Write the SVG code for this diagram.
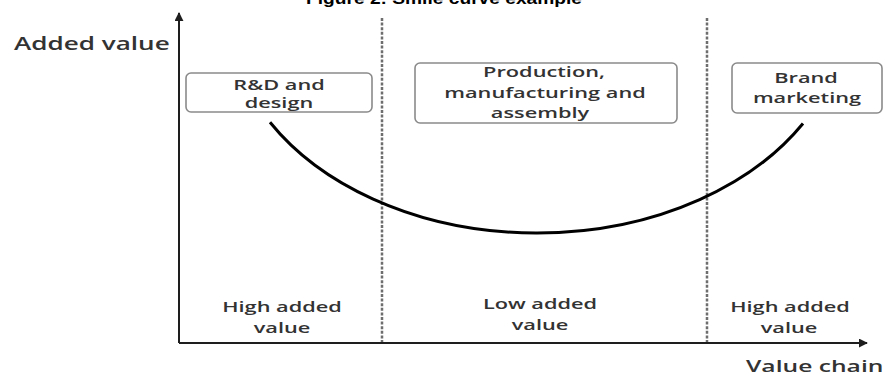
<svg xmlns="http://www.w3.org/2000/svg" width="886" height="374" viewBox="0 0 886 374">
  <style>
    .lbl { font-family: "Open Sans", "Liberation Sans", sans-serif; font-weight: 600; fill: #333; font-size: 15px; text-anchor: middle; }
    .big { font-size: 18px; text-anchor: start; }
    .box { fill: #fff; stroke: #8a8a8a; stroke-width: 1.6; }
    .axis { stroke: #1e1e1e; stroke-width: 2; fill: none; }
    .divider { stroke: #6e6e6e; stroke-width: 2.5; stroke-dasharray: 3 1.6; fill: none; }
    .curve { stroke: #000; stroke-width: 3; fill: none; }
  </style>
  <defs>
    <marker id="arrow" viewBox="0 0 10 10" refX="9" refY="5" markerWidth="4.5" markerHeight="4.5" orient="auto" markerUnits="strokeWidth">
      <path d="M0,0 L10,5 L0,10 Z" fill="#1e1e1e"/>
    </marker>
  </defs>

  <rect width="886" height="374" fill="#fff"/>

  <!-- title, cropped at the top edge -->
  <text x="306" y="4" font-family="Liberation Sans, Arial, sans-serif" font-weight="bold" font-size="17" fill="#000" textLength="276" lengthAdjust="spacingAndGlyphs">Figure 2: Smile curve example</text>

  <!-- axes, section dividers and the smile curve -->
  <g id="connectors">
    <line class="axis" x1="179" y1="343" x2="179" y2="13" marker-end="url(#arrow)"/>
    <line class="axis" x1="179" y1="343" x2="867" y2="343" marker-end="url(#arrow)"/>
    <line class="divider" x1="382" y1="18" x2="382" y2="342"/>
    <line class="divider" x1="707" y1="18" x2="707" y2="342"/>
    <path id="smile-curve" class="curve" d="M270,122.2 A309,223 0 0 0 803,123.5"/>
  </g>

  <!-- axis titles (all lettering is set 1.45x wide) -->
  <g id="y-axis-label">
    <text class="lbl big" transform="matrix(1.45,0,0,1,14,50)">Added value</text>
  </g>
  <g id="x-axis-label">
    <text class="lbl big" transform="matrix(1.45,0,0,1,746,372)" style="font-size:17px">Value chain</text>
  </g>

  <!-- activity boxes -->
  <g id="rd-design">
    <rect class="box" x="186" y="73" width="186" height="39" rx="5"/>
    <text class="lbl" transform="matrix(1.45,0,0,1,279,90)">R&amp;D and</text>
    <text class="lbl" transform="matrix(1.45,0,0,1,279,108)">design</text>
  </g>
  <g id="production">
    <rect class="box" x="415" y="63" width="262" height="60" rx="5"/>
    <text class="lbl" transform="matrix(1.45,0,0,1,544,77)">Production,</text>
    <text class="lbl" transform="matrix(1.45,0,0,1,545,98)">manufacturing and</text>
    <text class="lbl" transform="matrix(1.45,0,0,1,540,118)">assembly</text>
  </g>
  <g id="brand-marketing">
    <rect class="box" x="732" y="63" width="150" height="50" rx="5"/>
    <text class="lbl" transform="matrix(1.45,0,0,1,806,83)">Brand</text>
    <text class="lbl" transform="matrix(1.45,0,0,1,807,103)">marketing</text>
  </g>

  <!-- value level per section -->
  <g id="high-left">
    <text class="lbl" transform="matrix(1.45,0,0,1,282,312)">High added</text>
    <text class="lbl" transform="matrix(1.45,0,0,1,282,333)">value</text>
  </g>
  <g id="low-middle">
    <text class="lbl" transform="matrix(1.45,0,0,1,540,309)">Low added</text>
    <text class="lbl" transform="matrix(1.45,0,0,1,540,330)">value</text>
  </g>
  <g id="high-right">
    <text class="lbl" transform="matrix(1.45,0,0,1,790,312)">High added</text>
    <text class="lbl" transform="matrix(1.45,0,0,1,789,333)">value</text>
  </g>
</svg>
